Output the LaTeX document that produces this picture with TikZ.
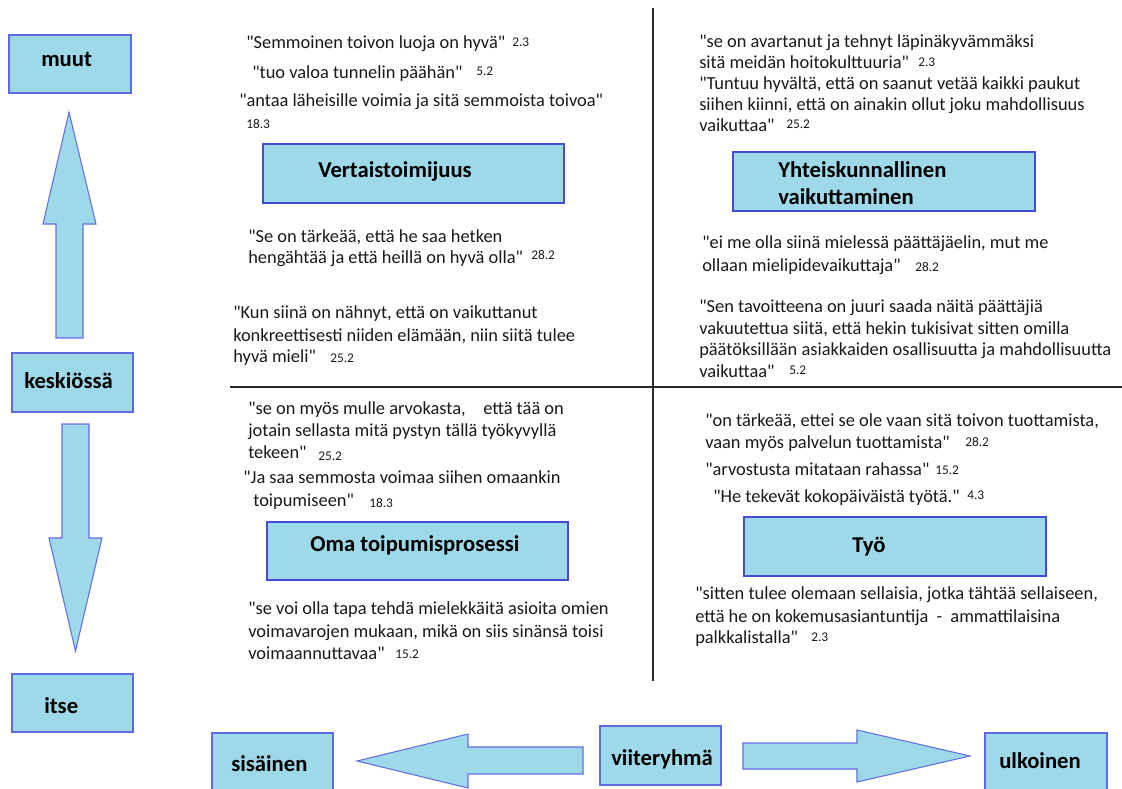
\documentclass[tikz,border=0pt]{standalone}
\usepackage{fontspec}
\setmainfont{Carlito}[Ligatures=TeXOff]
\usetikzlibrary{fit}
\definecolor{bfill}{RGB}{158,217,234}
\definecolor{bline}{RGB}{95,105,225}
\definecolor{qline}{RGB}{70,75,210}
\definecolor{aline}{RGB}{100,110,228}
\definecolor{qcol}{RGB}{25,25,25}
\definecolor{divcol}{RGB}{40,40,40}
\tikzset{
  qt/.style={anchor=base west, inner sep=0pt, font=\fontsize{13.8}{16}\selectfont, text=qcol},
  nm/.style={anchor=base west, inner sep=0pt, font=\fontsize{10}{12}\selectfont, text=qcol},
  lab/.style={anchor=base west, inner sep=0pt, font=\fontsize{17}{20}\selectfont\bfseries, text=black},
  cbox/.style={draw=bline, fill=bfill, line width=1.1pt, inner sep=0pt},
  qbox/.style={draw=qline, fill=bfill, line width=1.6pt, inner sep=0pt},
  barrow/.style={draw=aline, fill=bfill, line width=0.8pt, line join=miter},
  divider/.style={draw=divcol, line width=0.9pt}
}
\begin{document}
\begin{tikzpicture}[x=0.75pt,y=-0.75pt]
\useasboundingbox (0,0) rectangle (1122,789);
\clip (0,0) rectangle (1122,789);
\fill[white] (0,0) rectangle (1122,789);

% dividers
\draw[divider] (653,8) -- (653,681);
\draw[divider] (230,387) -- (1122,387);

% left column
\node[cbox, fit={(9,35) (131,93)}] (bMuut) {};
\node[lab] (tMuut) at (41,66) {muut};
\node[cbox, fit={(12,353) (133,412)}] (bKesk) {};
\node[lab] (tKesk) at (24,388) {keskiössä};
\node[cbox, fit={(12,674) (133,732)}] (bItse) {};
\node[lab] (tItse) at (44,713) {itse};

\draw[barrow] (56,338) -- (56,224) -- (43,224) -- (69,112) -- (96,224) -- (83,224) -- (83,338) -- cycle;
\draw[barrow] (62,424) -- (89,424) -- (89,538) -- (102,538) -- (75.5,651) -- (49,538) -- (62,538) -- cycle;

% bottom row
\node[cbox, fit={(212,733) (333,800)}] (bSis) {};
\node[lab] (tSis) at (231,771) {sisäinen};
\node[cbox, fit={(600,726) (721,785)}] (bVii) {};
\node[lab] (tVii) at (611,765) {viiteryhmä};
\node[cbox, fit={(985,733) (1107,800)}] (bUlk) {};
\node[lab] (tUlk) at (999,768) {ulkoinen};

\draw[barrow] (583,747) -- (468,747) -- (468,734) -- (357,761) -- (468,788) -- (468,774) -- (583,774) -- cycle;
\draw[barrow] (743,743) -- (857,743) -- (857,730) -- (970,756) -- (857,782) -- (857,769) -- (743,769) -- cycle;

% quadrant boxes
\node[qbox, fit={(263,144) (564,203)}] (bVert) {};
\node[lab] (tVert) at (318,177) {Vertaistoimijuus};
\node[qbox, fit={(733,152) (1035,211)}] (bYht) {};
\node[lab] (tYht1) at (778,177) {Yhteiskunnallinen};
\node[lab] (tYht2) at (778,204) {vaikuttaminen};
\node[qbox, fit={(267,522) (568,580)}] (bOma) {};
\node[lab] (tOma) at (310,551) {Oma toipumisprosessi};
\node[qbox, fit={(744,517) (1046,576)}] (bTyo) {};
\node[lab] (tTyo) at (852,552) {Työ};

% top-left quotes
\node[qt] (l1) at (246,48) {"Semmoinen toivon luoja on hyvä"};
\node[nm] (n1) at (512,46) {2.3};
\node[qt] (l2) at (252,78) {"tuo valoa tunnelin päähän"};
\node[nm] (n2) at (476,75) {5.2};
\node[qt] (l3) at (239,106) {"antaa läheisille voimia ja sitä semmoista toivoa"};
\node[nm] (n3) at (246,128) {18.3};
\node[qt] (l4a) at (248,242) {"Se on tärkeää, että he saa hetken};
\node[qt] (l4b) at (248,263) {hengähtää ja että heillä on hyvä olla"};
\node[nm] (n4) at (531,259) {28.2};
\node[qt] (l5a) at (233,318) {"Kun siinä on nähnyt, että on vaikuttanut};
\node[qt] (l5b) at (233,341) {konkreettisesti niiden elämään, niin siitä tulee};
\node[qt] (l5c) at (233,362) {hyvä mieli"};
\node[nm] (n5) at (330,362) {25.2};

% bottom-left quotes
\node[qt] (l6a) at (248,414) {"se on myös mulle arvokasta,};
\node[qt] (l6a2) at (483,414) {että tää on};
\node[qt] (l6b) at (248,436) {jotain sellasta mitä pystyn tällä työkyvyllä};
\node[qt] (l6c) at (248,458) {tekeen"};
\node[nm] (n6) at (318,460) {25.2};
\node[qt] (l7a) at (243,483) {"Ja saa semmosta voimaa siihen omaankin};
\node[qt] (l7b) at (253,506) {toipumiseen"};
\node[nm] (n7) at (369,507) {18.3};
\node[qt] (l8a) at (248,614) {"se voi olla tapa tehdä mielekkäitä asioita omien};
\node[qt] (l8b) at (248,637) {voimavarojen mukaan, mikä on siis sinänsä toisi};
\node[qt] (l8c) at (248,659) {voimaannuttavaa"};
\node[nm] (n8) at (395,658) {15.2};

% top-right quotes
\node[qt] (r1a) at (699,47) {"se on avartanut ja tehnyt läpinäkyvämmäksi};
\node[qt] (r1b) at (699,68) {sitä meidän hoitokulttuuria"};
\node[nm] (m1) at (918,66) {2.3};
\node[qt] (r2a) at (699,89) {"Tuntuu hyvältä, että on saanut vetää kaikki paukut};
\node[qt] (r2b) at (699,110) {siihen kiinni, että on ainakin ollut joku mahdollisuus};
\node[qt] (r2c) at (699,131) {vaikuttaa"};
\node[nm] (m2) at (786,128) {25.2};
\node[qt] (r3a) at (702,248) {"ei me olla siinä mielessä päättäjäelin, mut me};
\node[qt] (r3b) at (702,271) {ollaan mielipidevaikuttaja"};
\node[nm] (m3) at (915,271) {28.2};
\node[qt] (r4a) at (699,312) {"Sen tavoitteena on juuri saada näitä päättäjiä};
\node[qt] (r4b) at (699,334) {vakuutettua siitä, että hekin tukisivat sitten omilla};
\node[qt] (r4c) at (699,355) {päätöksillään asiakkaiden osallisuutta ja mahdollisuutta};
\node[qt] (r4d) at (699,377) {vaikuttaa"};
\node[nm] (m4) at (789,374) {5.2};

% bottom-right quotes
\node[qt] (r5a) at (705,426) {"on tärkeää, ettei se ole vaan sitä toivon tuottamista,};
\node[qt] (r5b) at (705,448) {vaan myös palvelun tuottamista"};
\node[nm] (m5) at (965,446) {28.2};
\node[qt] (r6) at (705,475) {"arvostusta mitataan rahassa"};
\node[nm] (m6) at (935,474) {15.2};
\node[qt] (r7) at (713,502) {"He tekevät kokopäiväistä työtä."};
\node[nm] (m7) at (967,499) {4.3};
\node[qt] (r8a) at (695,599) {"sitten tulee olemaan sellaisia, jotka tähtää sellaiseen,};
\node[qt] (r8b) at (695,622) {että he on kokemusasiantuntija\hspace{3pt} - \hspace{3pt}ammattilaisina};
\node[qt] (r8c) at (695,643) {palkkalistalla"};
\node[nm] (m8) at (811,641) {2.3};
\end{tikzpicture}
\end{document}
